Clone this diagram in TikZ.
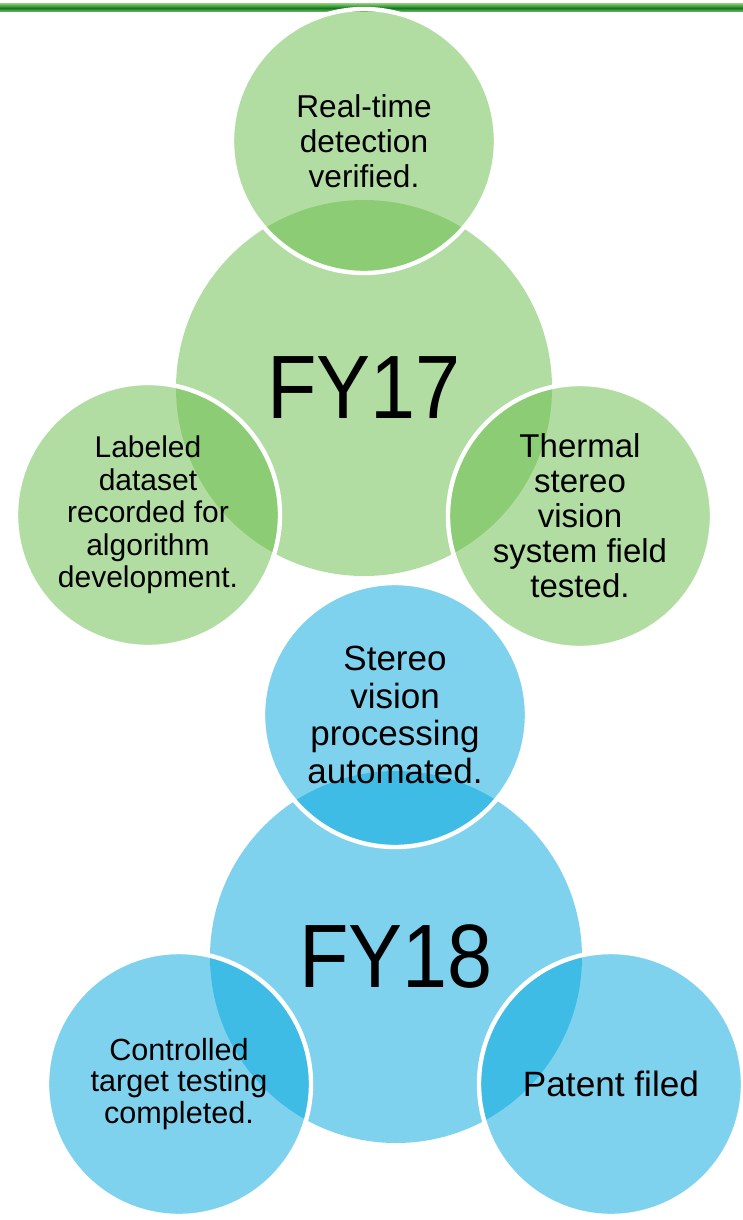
\documentclass[tikz,border=0pt]{standalone}
\usepackage{fontspec}
\setmainfont{Liberation Sans}
\newfontfamily\fyfont[FakeStretch=0.9]{Liberation Sans}
\definecolor{fygreen}{RGB}{102,187,70}
\definecolor{fyblue}{RGB}{0,166,222}
\definecolor{bardark}{RGB}{18,122,30}
\definecolor{barlight}{RGB}{120,192,104}

\begin{document}
\begin{tikzpicture}[x=0.5pt,y=-0.5pt,
    hub/.style={circle, inner sep=0pt, minimum size=#1, fill opacity=0.5, text opacity=1,
        font=\fyfont\fontsize{45}{50}\selectfont},
    goal/.style={circle, inner sep=0pt, minimum size=132pt, fill opacity=0.5, text opacity=1,
        draw=white, draw opacity=1, line width=2.2pt, align=center}]
    \useasboundingbox (0,0) rectangle (743,1220);
    % green rule along the top
    \shade[top color=barlight, bottom color=barlight, middle color=bardark] (0,4) rectangle (743,12);

    % FY17
    \node[hub=188pt, fill=fygreen] (fy17) at (364,388) {FY17};
    \node[goal, fill=fygreen, font=\fontsize{15.8}{17.5}\selectfont] (detect) at (364,141)
        {Real-time\\detection\\verified.};
    \node[goal, fill=fygreen, font=\fontsize{15}{16.3}\selectfont] (dataset) at (148,515)
        {Labeled\\dataset\\recorded for\\algorithm\\development.};
    \node[goal, fill=fygreen, font=\fontsize{16.5}{17.5}\selectfont] (thermal) at (580,516)
        {Thermal\\stereo\\vision\\system field\\tested.};

    % FY18
    \node[hub=186pt, fill=fyblue] (fy18) at (396,957) {FY18};
    \node[goal, fill=fyblue, font=\fontsize{17.5}{18.7}\selectfont] (stereo) at (395,715)
        {Stereo\\vision\\processing\\automated.};
    \node[goal, fill=fyblue, font=\fontsize{15.3}{15.6}\selectfont] (target) at (179,1084)
        {Controlled\\target testing\\completed.};
    \node[goal, fill=fyblue, font=\fontsize{17.6}{19}\selectfont] (patent) at (611,1084)
        {Patent filed};
\end{tikzpicture}
\end{document}
